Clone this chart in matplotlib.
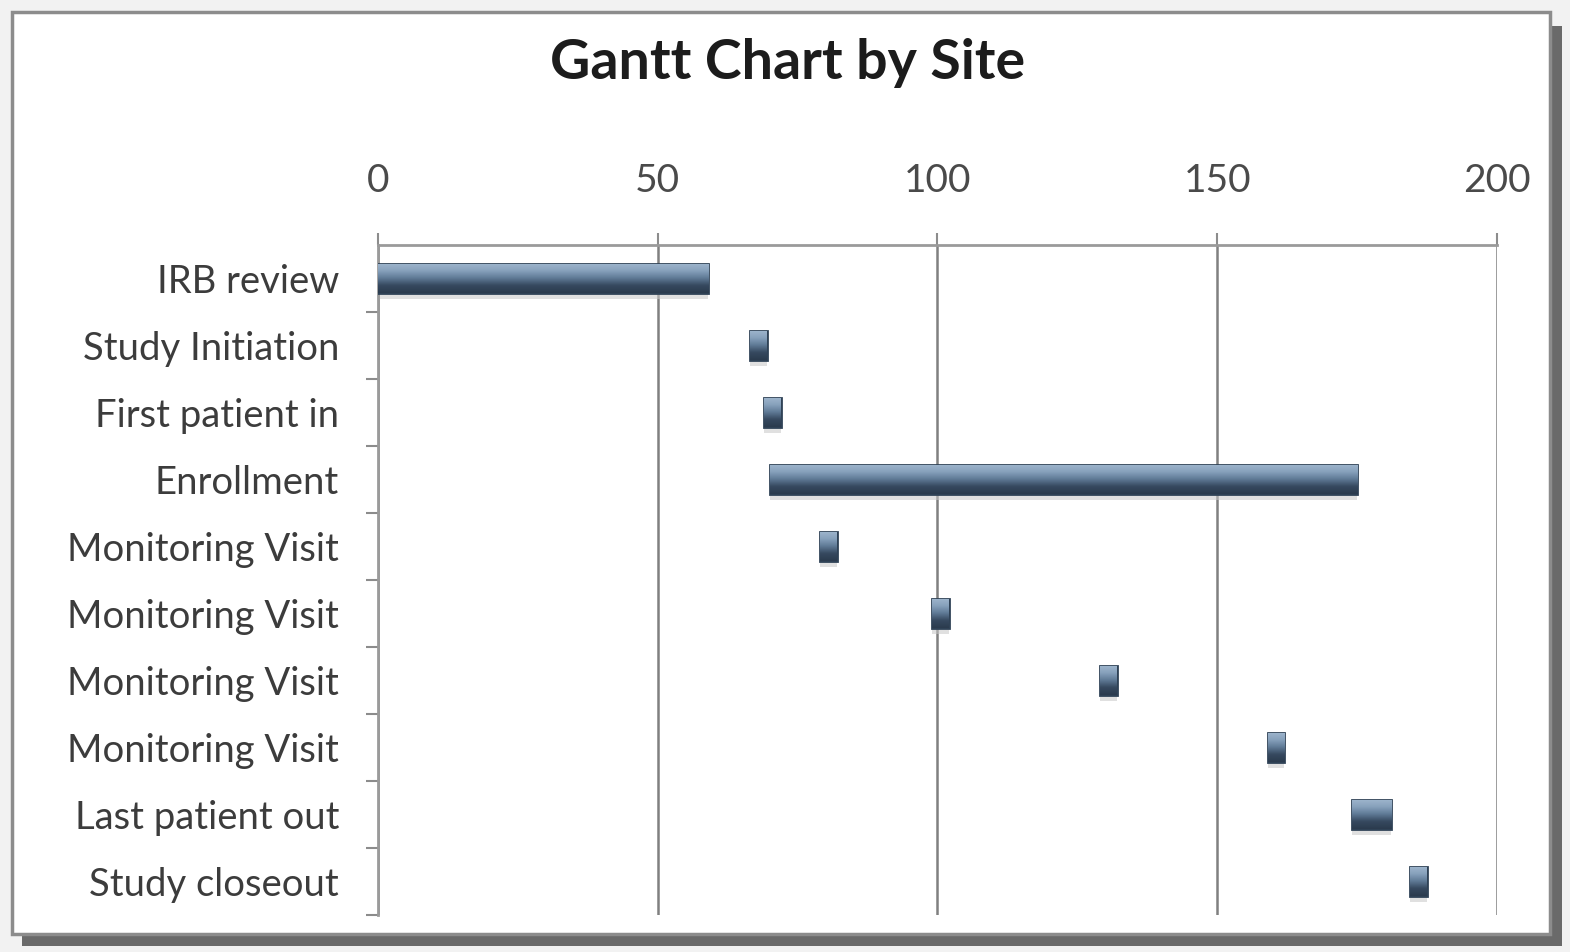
import numpy as np
import matplotlib.pyplot as plt
import matplotlib as mpl
from matplotlib.patches import Rectangle
from matplotlib.colors import LinearSegmentedColormap

mpl.rcParams["font.family"] = ["Lato", "DejaVu Sans"]

# Study milestones (days from start)
tasks = ["IRB review", "Study Initiation", "First patient in", "Enrollment",
         "Monitoring Visit", "Monitoring Visit", "Monitoring Visit",
         "Monitoring Visit", "Last patient out", "Study closeout"]
start_day = [0, 66.5, 69, 70, 79, 99, 129, 159, 174, 184.5]
duration = [59, 3, 3, 105, 3, 3, 3, 3, 7, 3]
x_ticks = [0, 50, 100, 150, 200]

W, H = 1570, 952
fig = plt.figure(figsize=(W / 100, H / 100), dpi=100, facecolor="#f2f2f2")

# chart frame with a drop shadow
fig.patches.append(Rectangle((22 / W, 1 - 946 / H), 1540 / W, 920 / H,
                             transform=fig.transFigure, facecolor="#6a6a6a",
                             edgecolor="none", zorder=-2))
fig.patches.append(Rectangle((12 / W, 1 - 934 / H), 1538 / W, 922 / H,
                             transform=fig.transFigure, facecolor="white",
                             edgecolor="#8c8c8c", linewidth=2.5, zorder=-1))

ax = fig.add_axes([378 / W, 1 - 915 / H, (1497 - 378) / W, (915 - 245) / H])
ax.set_zorder(5)
ax.set_facecolor("none")

ypos = np.arange(len(tasks))
bar_h = 0.44
bar_cmap = LinearSegmentedColormap.from_list(
    "bar", ["#9fb6cd", "#87a1bc", "#5f7a96", "#36495f", "#2b3b4e"])
grad = np.linspace(0, 1, 64).reshape(-1, 1)

# soft shadow under each bar
ax.barh(ypos + 0.09, duration, left=start_day, height=bar_h,
        color="#c8c8c8", alpha=0.55, edgecolor="none", zorder=2)
bars = ax.barh(ypos, duration, left=start_day, height=bar_h,
               color="#4a6580", edgecolor="#2f4256", linewidth=2, zorder=3)
for b in bars:
    x0, y0 = b.get_x(), b.get_y()
    im = ax.imshow(grad, extent=(x0, x0 + b.get_width(), y0 + b.get_height(), y0),
                   origin="upper", aspect="auto", cmap=bar_cmap,
                   interpolation="bilinear", zorder=3.5)
    im.set_clip_path(b)

ax.set_xlim(0, 200)
ax.set_ylim(len(tasks) - 0.5, -0.5)
ax.set_aspect("auto")

ax.xaxis.tick_top()
ax.set_xticks(x_ticks)
ax.set_xticklabels([str(t) for t in x_ticks])
ax.tick_params(axis="x", direction="out", length=9, width=1.5, color="#8c8c8c",
               pad=24, labelsize=28, labelcolor="#4a4a4a")
ax.grid(axis="x", color="#808080", linewidth=1.8, zorder=1)

ax.set_yticks(ypos)
ax.set_yticklabels(tasks)
ax.set_yticks(np.arange(len(tasks)) + 0.5, minor=True)
ax.tick_params(axis="y", which="major", length=0, pad=28, labelsize=27.5,
               labelcolor="#3c3c3c")
ax.tick_params(axis="y", which="minor", direction="out", length=9, width=1.5,
               color="#8c8c8c")

for side in ["right", "bottom"]:
    ax.spines[side].set_visible(False)
for side in ["top", "left"]:
    ax.spines[side].set_color("#9a9a9a")
    ax.spines[side].set_linewidth(2)

fig.text(788 / W, 1 - 63 / H, "Gantt Chart by Site", ha="center", va="center",
         fontsize=40, fontweight="bold", color="#1c1c1c")

fig.savefig("out.png", dpi=100, facecolor=fig.get_facecolor())
